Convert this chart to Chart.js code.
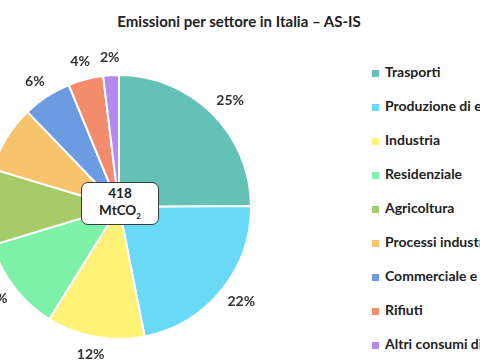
<!DOCTYPE html>
<html>
<head>
<meta charset="utf-8">
<script src="https://cdn.jsdelivr.net/npm/chart.js@4.4.0/dist/chart.umd.min.js"></script>
<style>
  html, body { margin: 0; padding: 0; background: #fff; }
  body { width: 480px; height: 360px; position: relative; overflow: hidden; font-family: Lato, "Noto Sans", sans-serif; }
  .title { position: absolute; top: 12px; left: 0; width: 478px; text-align: center; font-weight: 700; font-size: 15px; color: #222; }
  .pie-wrap { position: absolute; left: -30px; top: 0; width: 300px; height: 360px; }
  .center-box { position: absolute; left: 81px; top: 182px; width: 76px; height: 39px; border: 1.5px solid #3a3a3a; border-radius: 7px; background: #fff;
    text-align: center; font-weight: 700; font-size: 13.5px; color: #222; line-height: 17px; padding-top: 2px; box-sizing: content-box; }
  .center-box sub { font-size: 8px; line-height: 0; }
  .legend { position: absolute; left: 372px; top: 63px; }
  .legend div { height: 34px; white-space: nowrap; font-weight: 700; font-size: 14px; color: #222; display: flex; align-items: flex-start; }
  .legend span.sw { display: inline-block; width: 7px; height: 7px; margin: 7px 6px 0 0; }
</style>
</head>
<body>
<div class="title">Emissioni per settore in Italia – AS-IS</div>
<div class="pie-wrap"><canvas id="pie"></canvas></div>
<div class="center-box">418<br>MtCO<sub>2</sub></div>
<div class="legend" id="legend"></div>
<script>
const sectors = ['Trasporti', 'Produzione di energia', 'Industria', 'Residenziale', 'Agricoltura',
  'Processi industriali', 'Commerciale e servizi', 'Rifiuti', 'Altri consumi di energia'];
const emissions = [104, 92, 50, 48, 39, 34, 25, 18, 8]; // MtCO2
const colors = ['#64c1b6', '#68d9f6', '#fff277', '#7ef1a8', '#a5cb6b', '#f8c46b', '#6b9be0', '#f28c6d', '#b38af0'];

document.getElementById('legend').innerHTML = sectors.map((s, i) =>
  `<div><span class="sw" style="background:${colors[i]}"></span>${s}</div>`).join('');

const outLabels = {
  id: 'outLabels',
  afterDatasetsDraw(chart) {
    const ctx = chart.ctx;
    const data = chart.data.datasets[0].data;
    const total = data.reduce((a, b) => a + b, 0);
    ctx.save();
    ctx.font = 'bold 14px Lato, "Noto Sans", sans-serif';
    ctx.fillStyle = '#333';
    ctx.textAlign = 'center';
    ctx.textBaseline = 'middle';
    chart.getDatasetMeta(0).data.forEach((arc, i) => {
      const p = arc.getProps(['x', 'y', 'startAngle', 'endAngle', 'outerRadius'], true);
      const mid = (p.startAngle + p.endAngle) / 2;
      const txt = Math.round(data[i] / total * 100) + '%';
      const w = ctx.measureText(txt).width;
      const cx = Math.cos(mid), cy = Math.sin(mid);
      const r = p.outerRadius + 12;
      ctx.fillText(txt, p.x + r * cx + (w / 2) * cx, p.y + r * cy + 6 * cy);
    });
    ctx.restore();
  }
};

new Chart(document.getElementById('pie'), {
  type: 'pie',
  data: {
    labels: sectors,
    datasets: [{ data: emissions, backgroundColor: colors, borderColor: '#fff', borderWidth: 2 }]
  },
  options: {
    responsive: true, maintainAspectRatio: false, animation: false,
    layout: { padding: { left: 16, right: 18, top: 74, bottom: 20 } },
    plugins: { legend: { display: false }, tooltip: { enabled: false } }
  },
  plugins: [outLabels]
});
</script>
</body>
</html>
